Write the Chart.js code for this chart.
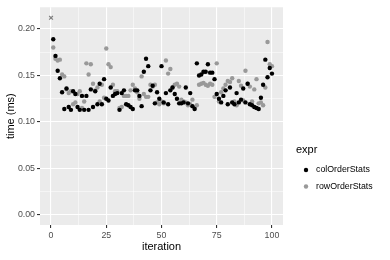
<!DOCTYPE html>
<html>
<head>
<meta charset="utf-8">
<script src="https://cdn.jsdelivr.net/npm/chart.js@4/dist/chart.umd.min.js"></script>
<style>
  html, body { margin: 0; padding: 0; background: #fff; }
  #wrap { width: 390px; height: 260px; }
</style>
</head>
<body>
<div id="wrap"><canvas id="chart"></canvas></div>
<script>
const seriesNames = ["colOrderStats", "rowOrderStats"];
const iterations = [
  1, 2, 3, 4, 5, 6, 7, 8, 9, 10, 11, 12, 13, 14, 15, 16, 17, 18, 19, 20,
  21, 22, 23, 24, 25, 26, 27, 28, 29, 30, 31, 32, 33, 34, 35, 36, 37, 38, 39, 40,
  41, 42, 43, 44, 45, 46, 47, 48, 49, 50, 51, 52, 53, 54, 55, 56, 57, 58, 59, 60,
  61, 62, 63, 64, 65, 66, 67, 68, 69, 70, 71, 72, 73, 74, 75, 76, 77, 78, 79, 80,
  81, 82, 83, 84, 85, 86, 87, 88, 89, 90, 91, 92, 93, 94, 95, 96, 97, 98, 99, 100
];
const colTimes = [
  0.189, 0.171, 0.155, 0.147, 0.132, 0.114, 0.136, 0.116, 0.113, 0.133,
  0.130, 0.116, 0.113, 0.128, 0.113, 0.128, 0.113, 0.135, 0.116, 0.133,
  0.119, 0.141, 0.119, 0.146, 0.125, 0.123, 0.137, 0.128, 0.130, 0.131,
  0.113, 0.131, 0.134, 0.119, 0.118, 0.116, 0.114, 0.134, 0.134, 0.128,
  0.117, 0.154, 0.168, 0.160, 0.134, 0.139, 0.120, 0.132, 0.125, 0.160,
  0.121, 0.131, 0.119, 0.134, 0.137, 0.130, 0.125, 0.120, 0.120, 0.121,
  0.137, 0.120, 0.131, 0.117, 0.114, 0.163, 0.150, 0.151, 0.154, 0.154,
  0.162, 0.153, 0.153, 0.146, 0.130, 0.125, 0.121, 0.128, 0.134, 0.119,
  0.137, 0.121, 0.119, 0.131, 0.121, 0.124, 0.136, 0.121, 0.141, 0.119,
  0.118, 0.116, 0.115, 0.114, 0.126, 0.140, 0.167, 0.148, 0.158, 0.152
];
const rowTimes = [
  0.180, 0.168, 0.166, 0.167, 0.151, 0.149, 0.135, 0.131, 0.133, 0.119,
  0.121, 0.130, 0.133, 0.115, 0.122, 0.163, 0.151, 0.162, 0.141, 0.134,
  0.137, 0.122, 0.140, 0.126, 0.179, 0.162, 0.159, 0.140, 0.133, 0.133,
  0.115, 0.116, 0.128, 0.128, 0.128, 0.134, 0.140, 0.136, 0.132, 0.125,
  0.149, 0.130, 0.127, 0.127, 0.140, 0.138, 0.140, 0.121, 0.119, 0.122,
  0.120, 0.166, 0.152, 0.157, 0.137, 0.140, 0.141, 0.138, 0.124, 0.122,
  0.121, 0.118, 0.119, 0.124, 0.115, 0.118, 0.140, 0.141, 0.142, 0.140,
  0.139, 0.141, 0.140, 0.127, 0.163, 0.122, 0.132, 0.136, 0.140, 0.144,
  0.143, 0.147, 0.122, 0.118, 0.144, 0.139, 0.123, 0.155, 0.141, 0.138,
  0.122, 0.135, 0.146, 0.120, 0.121, 0.118, 0.137, 0.186, 0.162, 0.160
];
// the lone "x" mark at iteration 0
const warmupIter = [0];
const warmupTime = [0.212];
const xTicks = [0, 25, 50, 75, 100];
const yTicks = [0, 0.05, 0.1, 0.15, 0.2];

const colors = ["#000000", "#999999"];
const toPoints = (xs, ys) => xs.map((x, i) => ({ x, y: ys[i] }));
const isMajor = (v, list) => list.some((t) => Math.abs(t - v) < 1e-9);

const panelBg = {
  id: "panelBg",
  beforeDraw(chart) {
    const { ctx, chartArea: a } = chart;
    ctx.save();
    ctx.fillStyle = "#EBEBEB";
    ctx.fillRect(a.left, a.top, a.right - a.left, a.bottom - a.top);
    ctx.restore();
  },
};

const sideLegend = {
  id: "sideLegend",
  afterDraw(chart) {
    const ctx = chart.ctx;
    const x0 = 296, y0 = 150;
    ctx.save();
    ctx.fillStyle = "#000";
    ctx.font = "11px 'Liberation Sans', Arial, sans-serif";
    ctx.textBaseline = "middle";
    ctx.fillText("expr", x0, y0);
    chart.data.datasets.forEach((ds, i) => {
      if (ds.hideInLegend) return;
      const y = y0 + 20 + i * 16.5;
      ctx.beginPath();
      ctx.fillStyle = ds.backgroundColor;
      ctx.arc(x0 + 10, y, 2.2, 0, Math.PI * 2);
      ctx.fill();
      ctx.fillStyle = "#000";
      ctx.font = "8.8px 'Liberation Sans', Arial, sans-serif";
      ctx.fillText(ds.label, x0 + 20, y);
    });
    ctx.restore();
  },
};

const tickFont = { family: "'Liberation Sans', Arial, sans-serif", size: 8.8 };
const titleFont = { family: "'Liberation Sans', Arial, sans-serif", size: 11 };

new Chart(document.getElementById("chart"), {
  type: "scatter",
  data: {
    datasets: [
      {
        label: seriesNames[0],
        data: toPoints(iterations, colTimes),
        backgroundColor: colors[0],
        borderColor: colors[0],
        pointRadius: 2.2,
        borderWidth: 0,
      },
      {
        label: seriesNames[1],
        data: toPoints(iterations, rowTimes),
        backgroundColor: colors[1],
        borderColor: colors[1],
        pointRadius: 2.2,
        borderWidth: 0,
      },
      {
        label: seriesNames[1],
        hideInLegend: true,
        data: toPoints(warmupIter, warmupTime),
        pointStyle: "crossRot",
        pointRadius: 2.6,
        borderWidth: 1.2,
        borderColor: "#7f7f7f",
        backgroundColor: "#7f7f7f",
      },
    ],
  },
  options: {
    responsive: true,
    maintainAspectRatio: false,
    animation: false,
    layout: { padding: { top: 5, right: 107, left: 0, bottom: 0 } },
    plugins: { legend: { display: false }, tooltip: { enabled: false } },
    scales: {
      x: {
        type: "linear",
        min: -5,
        max: 105,
        afterFit: (s) => { s.height = 35; },
        border: { display: false },
        grid: {
          color: "#fff",
          lineWidth: (c) => (isMajor(c.tick.value, xTicks) ? 1.1 : 0.5),
          tickColor: (c) => (isMajor(c.tick.value, xTicks) ? "#333" : "rgba(0,0,0,0)"),
          tickLength: 3,
        },
        ticks: {
          stepSize: 12.5,
          includeBounds: false,
          autoSkip: false,
          maxRotation: 0,
          padding: 2,
          color: "#4D4D4D",
          font: tickFont,
          callback: (v) => (isMajor(v, xTicks) ? String(v) : ""),
        },
        title: { display: true, text: "iteration", color: "#000", font: titleFont, padding: { top: 0, bottom: 6 } },
      },
      y: {
        min: -0.0108,
        max: 0.2233,
        afterFit: (s) => { s.width = 40; },
        border: { display: false },
        grid: {
          color: "#fff",
          lineWidth: (c) => (isMajor(c.tick.value, yTicks) ? 1.1 : 0.5),
          tickColor: (c) => (isMajor(c.tick.value, yTicks) ? "#333" : "rgba(0,0,0,0)"),
          tickLength: 3,
        },
        ticks: {
          stepSize: 0.025,
          includeBounds: false,
          autoSkip: false,
          padding: 2,
          color: "#4D4D4D",
          font: tickFont,
          callback: (v) => (isMajor(v, yTicks) ? v.toFixed(2) : ""),
        },
        title: { display: true, text: "time (ms)", color: "#000", font: titleFont, padding: { top: 4, bottom: 2 } },
      },
    },
  },
  plugins: [panelBg, sideLegend],
});
</script>
</body>
</html>
